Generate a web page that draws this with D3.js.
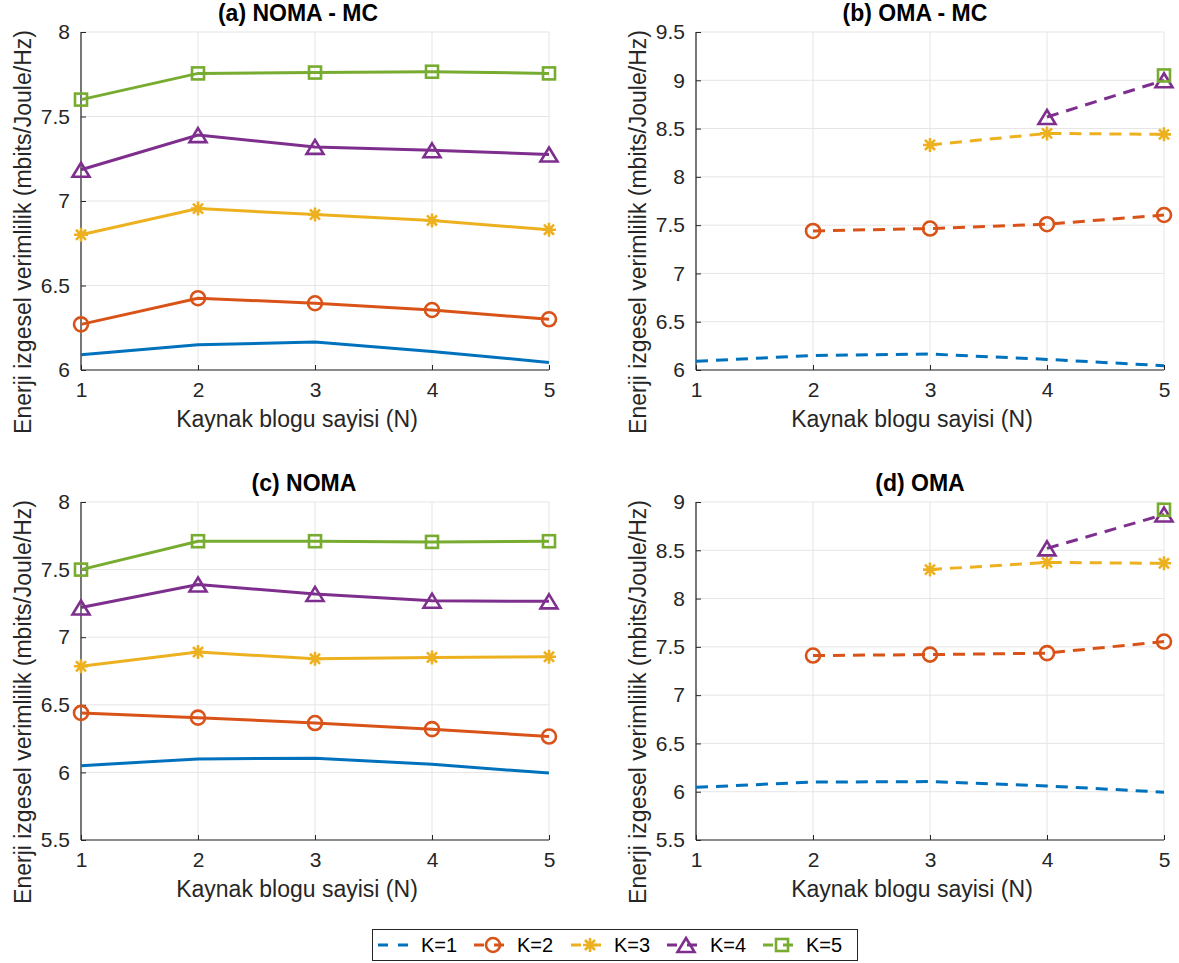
<!DOCTYPE html>
<html>
<head>
<meta charset="utf-8">
<script src="https://cdn.jsdelivr.net/npm/d3@7"></script>
<style>
  html, body { margin: 0; padding: 0; background: #fff; }
  svg { display: block; font-family: "Liberation Sans", Arial, sans-serif; }
</style>
</head>
<body>
<svg id="chart" width="1179" height="963"></svg>
<script>
// ---------- Data ----------
const N = [1, 2, 3, 4, 5];
const seriesLabels = ["K=1", "K=2", "K=3", "K=4", "K=5"];
const seriesColors = ["#0072BD", "#D95319", "#EDB120", "#7E2F8E", "#77AC30"];
const seriesMarkers = ["none", "circle", "asterisk", "triangle", "square"];

// (a) NOMA - MC
const nomaMC_K1 = [6.09, 6.15, 6.165, 6.11, 6.045];
const nomaMC_K2 = [6.27, 6.425, 6.395, 6.355, 6.30];
const nomaMC_K3 = [6.80, 6.955, 6.92, 6.885, 6.83];
const nomaMC_K4 = [7.185, 7.39, 7.32, 7.30, 7.275];
const nomaMC_K5 = [7.60, 7.755, 7.76, 7.765, 7.755];

// (b) OMA - MC
const omaMC_K1 = [6.09, 6.15, 6.165, 6.11, 6.045];
const omaMC_K2 = [null, 7.44, 7.465, 7.51, 7.605];
const omaMC_K3 = [null, null, 8.33, 8.45, 8.44];
const omaMC_K4 = [null, null, null, 8.62, 9.00];
const omaMC_K5 = [null, null, null, null, 9.05];

// (c) NOMA
const noma_K1 = [6.05, 6.10, 6.105, 6.06, 5.995];
const noma_K2 = [6.44, 6.405, 6.365, 6.32, 6.265];
const noma_K3 = [6.785, 6.89, 6.84, 6.85, 6.855];
const noma_K4 = [7.22, 7.39, 7.32, 7.27, 7.265];
const noma_K5 = [7.50, 7.71, 7.71, 7.705, 7.71];

// (d) OMA
const oma_K1 = [6.045, 6.10, 6.105, 6.06, 5.995];
const oma_K2 = [null, 7.41, 7.42, 7.435, 7.555];
const oma_K3 = [null, null, 8.30, 8.375, 8.365];
const oma_K4 = [null, null, null, 8.52, 8.87];
const oma_K5 = [null, null, null, null, 8.92];

const titles = ["(a) NOMA - MC", "(b) OMA - MC", "(c) NOMA", "(d) OMA"];
const yDomains = [[6, 8], [6, 9.5], [5.5, 8], [5.5, 9]];
const yTickStep = 0.5;
const xLabel = "Kaynak blogu sayisi (N)";
const yLabel = "Enerji izgesel verimlilik (mbits/Joule/Hz)";

const panelSeries = [
  [nomaMC_K1, nomaMC_K2, nomaMC_K3, nomaMC_K4, nomaMC_K5],
  [omaMC_K1, omaMC_K2, omaMC_K3, omaMC_K4, omaMC_K5],
  [noma_K1, noma_K2, noma_K3, noma_K4, noma_K5],
  [oma_K1, oma_K2, oma_K3, oma_K4, oma_K5]
];
const panelDashed = [false, true, false, true];

// ---------- Layout ----------
const boxes = [
  { left: 81, right: 549, top: 32, bottom: 370, titleDx: -17 },
  { left: 696, right: 1164, top: 32, bottom: 370, titleDx: -15 },
  { left: 81, right: 549, top: 502, bottom: 840, titleDx: -11 },
  { left: 696, right: 1164, top: 502, bottom: 840, titleDx: -10 }
];
const axisColor = "#262626";
const gridColor = "#e5e5e5";
const dashPattern = "12,8";

const svg = d3.select("#chart");

function drawMarker(g, type, x, y, color) {
  if (type === "circle") {
    g.append("circle").attr("cx", x).attr("cy", y).attr("r", 7)
      .attr("fill", "none").attr("stroke", color).attr("stroke-width", 2.6);
  } else if (type === "square") {
    g.append("rect").attr("x", x - 6).attr("y", y - 6).attr("width", 12).attr("height", 12)
      .attr("fill", "none").attr("stroke", color).attr("stroke-width", 2.6);
  } else if (type === "triangle") {
    const w = 8.5, h = 14;
    g.append("path").attr("d", `M${x},${y - h / 2}L${x + w},${y + h / 2}L${x - w},${y + h / 2}Z`)
      .attr("fill", "none").attr("stroke", color).attr("stroke-width", 2.6).attr("stroke-linejoin", "miter");
  } else if (type === "asterisk") {
    const r = 7, d = r * 0.72;
    const p = `M${x - r},${y}L${x + r},${y}M${x},${y - r}L${x},${y + r}` +
      `M${x - d},${y - d}L${x + d},${y + d}M${x - d},${y + d}L${x + d},${y - d}`;
    g.append("path").attr("d", p).attr("stroke", color).attr("stroke-width", 2.6).attr("fill", "none");
  }
}

boxes.forEach((b, i) => {
  const x = d3.scaleLinear().domain([1, 5]).range([b.left, b.right]);
  const y = d3.scaleLinear().domain(yDomains[i]).range([b.bottom, b.top]);
  const yTicks = d3.range(yDomains[i][0], yDomains[i][1] + 1e-9, yTickStep);
  const g = svg.append("g");

  // grid
  g.append("g").selectAll("line.gx").data(N).join("line")
    .attr("x1", d => x(d)).attr("x2", d => x(d)).attr("y1", b.top).attr("y2", b.bottom)
    .attr("stroke", gridColor).attr("stroke-width", 1);
  g.append("g").selectAll("line.gy").data(yTicks).join("line")
    .attr("x1", b.left).attr("x2", b.right).attr("y1", d => y(d)).attr("y2", d => y(d))
    .attr("stroke", gridColor).attr("stroke-width", 1);

  // axes
  const xAxis = d3.axisBottom(x).tickValues(N).tickSize(-5).tickPadding(12).tickFormat(d3.format("d"));
  const yAxis = d3.axisLeft(y).tickValues(yTicks).tickSize(-5).tickPadding(11).tickFormat(d => String(+d.toFixed(1)));
  const gx = g.append("g").attr("transform", `translate(0,${b.bottom})`).call(xAxis);
  const gy = g.append("g").attr("transform", `translate(${b.left},0)`).call(yAxis);
  [gx, gy].forEach(a => {
    a.select(".domain").attr("stroke", axisColor).attr("stroke-width", 1.2);
    a.selectAll(".tick line").attr("stroke", axisColor);
    a.selectAll(".tick text").attr("fill", axisColor).attr("font-size", 21)
      .attr("font-family", "Liberation Sans, Arial, sans-serif");
  });
  gy.select(".domain").attr("d", `M0,${b.top}V${b.bottom}`);
  gx.select(".domain").attr("d", `M${b.left},0H${b.right}`);

  // series
  const line = d3.line().defined(d => d.v !== null).x(d => x(d.n)).y(d => y(d.v));
  panelSeries[i].forEach((vals, k) => {
    const pts = N.map((n, j) => ({ n: n, v: vals[j] }));
    const sg = g.append("g");
    sg.append("path").datum(pts).attr("d", line)
      .attr("fill", "none").attr("stroke", seriesColors[k]).attr("stroke-width", 3)
      .attr("stroke-dasharray", panelDashed[i] ? dashPattern : null);
    if (seriesMarkers[k] !== "none") {
      pts.filter(p => p.v !== null).forEach(p => drawMarker(sg, seriesMarkers[k], x(p.n), y(p.v), seriesColors[k]));
    }
  });

  // title
  const cx = (b.left + b.right) / 2;
  g.append("text").attr("x", cx + b.titleDx).attr("y", b.top - 11).attr("text-anchor", "middle")
    .attr("font-weight", "bold").attr("font-size", 23).attr("fill", "#000").text(titles[i]);
  // x label
  g.append("text").attr("x", cx - 18).attr("y", b.bottom + 57).attr("text-anchor", "middle")
    .attr("font-size", 23).attr("fill", axisColor).text(xLabel);
  // y label
  const cy = (b.top + b.bottom) / 2 + 31;
  const lx = b.left - 50;
  g.append("text").attr("transform", `translate(${lx},${cy}) rotate(-90)`).attr("text-anchor", "middle")
    .attr("font-size", 23).attr("fill", axisColor).text(yLabel);
});

// ---------- Legend ----------
const legend = svg.append("g");
legend.append("rect").attr("x", 372.5).attr("y", 929.5).attr("width", 485).attr("height", 31)
  .attr("fill", "#fff").attr("stroke", axisColor).attr("stroke-width", 1);
const legendX = [378, 474, 571, 667, 763];
seriesLabels.forEach((lab, k) => {
  const lx0 = legendX[k], ly = 945;
  legend.append("line").attr("x1", lx0).attr("x2", lx0 + 32).attr("y1", ly).attr("y2", ly)
    .attr("stroke", seriesColors[k]).attr("stroke-width", 3).attr("stroke-dasharray", "10,10");
  if (seriesMarkers[k] !== "none") drawMarker(legend, seriesMarkers[k], lx0 + 19, ly, seriesColors[k]);
  legend.append("text").attr("x", lx0 + 43).attr("y", ly + 7).attr("font-size", 20)
    .attr("fill", "#000").text(lab);
});
</script>
</body>
</html>
